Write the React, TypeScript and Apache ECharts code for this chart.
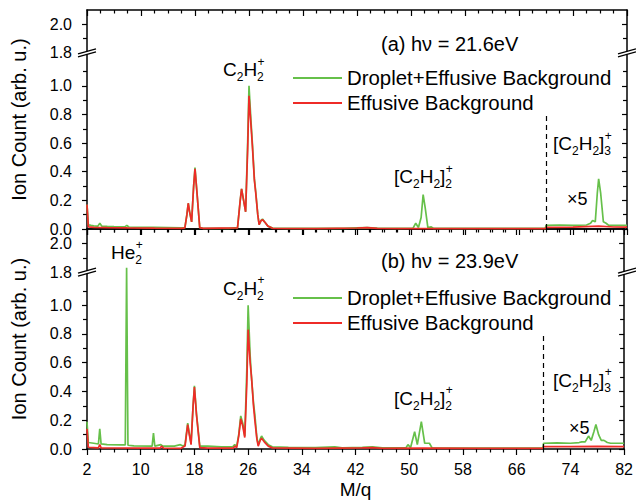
import React, { useEffect, useRef } from "react";
import * as echarts from "echarts";

// ---------------- data ----------------
const seriesNames = ["Droplet+Effusive Background", "Effusive Background"];
const panelTitles = ["(a) hν = 21.6eV", "(b) hν = 23.9eV"];

// Panel (a) hv = 21.6 eV
const aGreenX = [2, 2.2, 2.6, 3, 3.6, 3.9, 4.2, 5, 6, 7.6, 7.9, 8.2, 10, 12, 14, 16, 16.5, 16.8, 17, 17.2, 17.5, 17.8, 18, 18.3, 18.7, 19.2, 21, 23, 24.3, 24.7, 24.9, 25.2, 25.5, 25.8, 26, 26.3, 26.5, 26.8, 27, 27.3, 27.5, 27.8, 28, 28.3, 28.8, 29.5, 32, 36, 40, 42, 43.5, 45, 48, 50.3, 50.7, 51.1, 51.5, 51.8, 52.1, 52.5, 53, 53.3, 56, 60, 64, 69.9, 70, 72, 74, 76, 76.6, 76.9, 77.3, 77.6, 77.8, 78.1, 78.5, 78.9, 79.3, 80, 82];
const aGreenY = [0.17, 0.03, 0.025, 0.022, 0.02, 0.04, 0.02, 0.018, 0.016, 0.015, 0.025, 0.014, 0.012, 0.011, 0.01, 0.008, 0.01, 0.1, 0.18, 0.12, 0.05, 0.3, 0.43, 0.25, 0.01, 0.005, 0.005, 0.005, 0.01, 0.2, 0.28, 0.2, 0.12, 0.6, 1.0, 0.75, 0.6, 0.35, 0.26, 0.1, 0.03, 0.06, 0.07, 0.05, 0.02, 0.006, 0.004, 0.004, 0.005, 0.008, 0.01, 0.006, 0.004, 0.006, 0.04, 0.01, 0.08, 0.24, 0.15, 0.01, 0.015, 0.005, 0.004, 0.004, 0.004, 0.004, 0.025, 0.028, 0.025, 0.028, 0.04, 0.06, 0.05, 0.25, 0.35, 0.25, 0.05, 0.04, 0.025, 0.026, 0.025];
const aRedX = [2, 2.2, 3, 5, 8, 12, 16, 16.5, 16.8, 17, 17.2, 17.5, 17.8, 18, 18.3, 18.7, 19.2, 24.3, 24.7, 24.9, 25.2, 25.5, 25.8, 26, 26.3, 26.5, 26.8, 27, 27.3, 27.5, 27.8, 28, 28.3, 28.8, 29.5, 36, 42, 43.5, 45, 50, 60, 69.9, 70, 74, 77.8, 80, 82];
const aRedY = [0.17, 0.015, 0.012, 0.01, 0.008, 0.006, 0.005, 0.008, 0.1, 0.18, 0.12, 0.05, 0.3, 0.42, 0.25, 0.01, 0.004, 0.008, 0.2, 0.28, 0.2, 0.12, 0.55, 0.93, 0.72, 0.58, 0.34, 0.25, 0.1, 0.03, 0.06, 0.065, 0.05, 0.02, 0.005, 0.003, 0.007, 0.01, 0.005, 0.003, 0.003, 0.003, 0.012, 0.013, 0.02, 0.014, 0.013];

// Panel (b) hv = 23.9 eV
const bGreenX = [2, 2.2, 3, 3.7, 3.9, 4.1, 5, 7, 7.7, 7.9, 8.1, 9, 11.7, 11.9, 12.1, 13, 13.3, 15, 15.9, 16.3, 16.6, 17, 17.2, 17.5, 17.8, 18, 18.3, 18.8, 20, 22, 23.7, 24, 24.3, 24.6, 24.9, 25.2, 25.5, 25.8, 26, 26.3, 26.5, 26.8, 27, 27.3, 27.5, 27.8, 28, 28.4, 29, 29.6, 32, 36, 38.9, 40, 43, 44.5, 46, 49.5, 49.8, 50.2, 50.8, 51.2, 51.8, 52.3, 53, 53.4, 56, 60, 64, 69.9, 70, 72, 74, 75.3, 75.7, 76.2, 76.7, 77.1, 77.5, 77.8, 78.2, 78.6, 79, 79.5, 80, 82];
const bGreenY = [0.19, 0.045, 0.04, 0.035, 0.14, 0.035, 0.03, 0.028, 0.028, 1.83, 0.026, 0.022, 0.02, 0.11, 0.02, 0.03, 0.02, 0.02, 0.03, 0.02, 0.03, 0.18, 0.12, 0.04, 0.3, 0.44, 0.25, 0.02, 0.02, 0.015, 0.015, 0.03, 0.02, 0.1, 0.23, 0.18, 0.09, 0.55, 1.0, 0.65, 0.5, 0.32, 0.24, 0.08, 0.03, 0.07, 0.09, 0.06, 0.03, 0.015, 0.012, 0.01, 0.015, 0.008, 0.012, 0.015, 0.008, 0.008, 0.03, 0.01, 0.12, 0.03, 0.19, 0.04, 0.04, 0.008, 0.006, 0.006, 0.006, 0.006, 0.04, 0.042, 0.04, 0.045, 0.05, 0.05, 0.09, 0.06, 0.12, 0.17, 0.1, 0.06, 0.06, 0.045, 0.04, 0.04];
const bRedX = [2, 2.2, 3, 3.7, 3.9, 4.1, 6, 10, 12.9, 13.1, 13.4, 16, 16.6, 17, 17.2, 17.5, 17.8, 18, 18.3, 18.8, 20, 23.8, 24, 24.3, 24.6, 24.9, 25.2, 25.5, 25.8, 26, 26.3, 26.5, 26.8, 27, 27.3, 27.5, 27.8, 28, 28.4, 29, 29.6, 36, 43, 44.5, 46, 52, 60, 69.9, 70, 74, 78, 82];
const bRedY = [0.14, 0.012, 0.01, 0.008, 0.03, 0.008, 0.007, 0.006, 0.006, 0.02, 0.006, 0.005, 0.02, 0.17, 0.11, 0.03, 0.3, 0.43, 0.24, 0.01, 0.006, 0.006, 0.02, 0.01, 0.09, 0.21, 0.16, 0.08, 0.45, 0.83, 0.6, 0.5, 0.3, 0.2, 0.07, 0.02, 0.06, 0.075, 0.05, 0.02, 0.008, 0.005, 0.008, 0.01, 0.005, 0.006, 0.005, 0.005, 0.016, 0.017, 0.018, 0.016];

// axis ticks
const xMajorTicks = [2, 10, 18, 26, 34, 42, 50, 58, 66, 74, 82];
const xMinorTicks = [4, 6, 8, 12, 14, 16, 20, 22, 24, 28, 30, 32, 36, 38, 40, 44, 46, 48, 52, 54, 56, 60, 62, 64, 68, 70, 72, 76, 78, 80];
// axis values (after the 1.23 -> 1.8 break) ; labels map back to real values
const yMajorTicks = [0, 0.2, 0.4, 0.6, 0.8, 1.0, 1.23, 1.43];
const yMinorTicks = [0.1, 0.3, 0.5, 0.7, 0.9, 1.1, 1.33];
const BREAK_SHIFT = 0.57; // real 1.8 is drawn at axis 1.23
const Y_MAX = 1.53; // real 2.1
const SCALED_FROM = 70; // x5 region starts

// ---------------- layout ----------------
const FONT = '"Liberation Sans", Arial, Helvetica, sans-serif';
const GREEN = "#66c04a";
const RED = "#ee2b27";
const GRID_L = 87;
const GRID_R = 9;
const panels = [
  { top: 10, height: 219 },
  { top: 229, height: 220 },
];

const toAxis = (v: number) => (v >= 1.8 ? v - BREAK_SHIFT : v);
const zip = (xs: number[], ys: number[]) => xs.map((x, i) => [x, toAxis(ys[i])]);

let measureCtx: CanvasRenderingContext2D | null = null;
function textWidth(t: string, size: number) {
  if (!measureCtx) measureCtx = document.createElement("canvas").getContext("2d");
  if (!measureCtx) return t.length * size * 0.55;
  measureCtx.font = `${size}px ${FONT}`;
  return measureCtx.measureText(t).width;
}

type Tok = [string, string?, string?];
function chem(tokens: Tok[], x0: number, y: number, size: number) {
  const els: any[] = [];
  let x = x0;
  const small = Math.round(size * 0.62);
  const mk = (text: string, xx: number, yy: number, fs: number) => ({
    type: "text",
    x: xx,
    y: yy,
    z: 50,
    style: { text, fontSize: fs, fontFamily: FONT, fill: "#000", align: "left", verticalAlign: "middle" },
  });
  for (const [main, sub, sup] of tokens) {
    if (main) {
      els.push(mk(main, x, y, size));
      x += textWidth(main, size);
    }
    let w = 0;
    if (sub) {
      els.push(mk(sub, x, y + size * 0.4, small));
      w = Math.max(w, textWidth(sub, small));
    }
    if (sup) {
      els.push(mk(sup, x + 0.5, y - size * 0.4, small));
      w = Math.max(w, textWidth(sup, small));
    }
    x += w;
  }
  return els;
}

function plainText(text: string, x: number, y: number, size: number, align = "left") {
  return {
    type: "text",
    x,
    y,
    z: 50,
    style: { text, fontSize: size, fontFamily: FONT, fill: "#000", align, verticalAlign: "middle" },
  };
}

function breakMark(cx: number, cy: number) {
  return {
    type: "group",
    z: 60,
    children: [
      {
        type: "polygon",
        shape: { points: [[cx - 9, cy + 4], [cx + 9, cy - 1], [cx + 9, cy - 4], [cx - 9, cy + 1]] },
        style: { fill: "#fff", stroke: null },
        z: 60,
      },
      { type: "line", shape: { x1: cx - 9, y1: cy + 4, x2: cx + 9, y2: cy - 1 }, style: { stroke: "#000", lineWidth: 1.3 }, z: 61 },
      { type: "line", shape: { x1: cx - 9, y1: cy + 1, x2: cx + 9, y2: cy - 4 }, style: { stroke: "#000", lineWidth: 1.3 }, z: 61 },
    ],
  };
}

function buildOption() {
  const xAxes: any[] = [];
  const yAxes: any[] = [];
  panels.forEach((p, gi) => {
    const isBottom = gi === panels.length - 1;
    const xBase = (pos: string, ticks: number[], len: number, inside: boolean, line: boolean, labels: boolean) => ({
      type: "value",
      gridIndex: gi,
      position: pos,
      min: 2,
      max: 82,
      axisLine: { show: line, onZero: false, lineStyle: { color: "#000", width: 1.5 } },
      axisTick: { show: true, inside, length: len, customValues: ticks, lineStyle: { color: "#000", width: 1.2 } },
      axisLabel: labels
        ? { show: true, customValues: xMajorTicks, margin: 12, fontSize: 16, color: "#000", fontFamily: FONT }
        : { show: false },
      splitLine: { show: false },
      ...(labels
        ? {
            name: "M/q",
            nameLocation: "middle",
            nameGap: 31,
            nameTextStyle: { fontSize: 19, color: "#000", fontFamily: FONT },
          }
        : {}),
    });
    xAxes.push(xBase("bottom", xMajorTicks, 6, false, true, isBottom));
    xAxes.push(xBase("bottom", xMinorTicks, 3.5, false, false, false));
    xAxes.push(xBase("top", xMajorTicks, 6, true, true, false));
    xAxes.push(xBase("top", xMinorTicks, 3.5, true, false, false));

    const yBase = (pos: string, ticks: number[], len: number, inside: boolean, line: boolean, labels: boolean) => ({
      type: "value",
      gridIndex: gi,
      position: pos,
      min: 0,
      max: Y_MAX,
      axisLine: { show: line, onZero: false, lineStyle: { color: "#000", width: 1.5 } },
      axisTick: { show: true, inside, length: len, customValues: ticks, lineStyle: { color: "#000", width: 1.2 } },
      axisLabel: labels
        ? {
            show: true,
            customValues: yMajorTicks,
            margin: 15,
            fontSize: 16,
            lineHeight: 13,
            color: "#000",
            fontFamily: FONT,
            formatter: (v: number) => (v > 1.2 ? v + BREAK_SHIFT : v).toFixed(1),
          }
        : { show: false },
      splitLine: { show: false },
      ...(labels
        ? {
            name: "Ion Count (arb. u.)",
            nameLocation: "middle",
            nameGap: 58,
            nameTextStyle: { fontSize: 20, color: "#000", fontFamily: FONT },
          }
        : {}),
    });
    yAxes.push(yBase("left", yMajorTicks, 5, false, true, true));
    yAxes.push(yBase("left", yMinorTicks, 4, false, false, false));
    yAxes.push(yBase("right", yMajorTicks, 5, true, true, false));
    yAxes.push(yBase("right", yMinorTicks, 4, true, false, false));
  });

  const dashed = {
    silent: true,
    symbol: ["none", "none"],
    label: { show: false },
    lineStyle: { color: "#000", type: [5, 4], width: 1.2 },
    data: [[{ coord: [SCALED_FROM, 0] }, { coord: [SCALED_FROM, 0.79] }]],
  };

  const line = (name: string, color: string, gi: number, data: number[][], markLine?: any) => ({
    type: "line",
    name,
    xAxisIndex: gi * 4,
    yAxisIndex: gi * 4,
    data,
    symbol: "none",
    showSymbol: false,
    lineStyle: { color, width: 1.7 },
    itemStyle: { color },
    z: color === RED ? 3 : 2,
    ...(markLine ? { markLine } : {}),
  });

  const series = [
    line(seriesNames[0], GREEN, 0, zip(aGreenX, aGreenY)),
    line(seriesNames[1], RED, 0, zip(aRedX, aRedY), dashed),
    line(seriesNames[0], GREEN, 1, zip(bGreenX, bGreenY)),
    line(seriesNames[1], RED, 1, zip(bRedX, bRedY), dashed),
  ];

  const yOf = (gi: number, v: number) => panels[gi].top + panels[gi].height * (1 - v / Y_MAX);
  const C2H2: Tok[] = [["C", "2"], ["H", "2", "+"]];
  const dimer: Tok[] = [["[C", "2"], ["H", "2"], ["]", "2", "+"]];
  const trimer: Tok[] = [["[C", "2"], ["H", "2"], ["]", "3", "+"]];

  const graphic: any[] = [
    plainText(panelTitles[0], 381, 44, 20),
    plainText(panelTitles[1], 381, 260.5, 20),
    ...chem(C2H2, 223, 69.5, 19),
    ...chem(C2H2, 223, 288, 19),
    ...chem(dimer, 394, 176.5, 19),
    ...chem(dimer, 394, 398, 19),
    ...chem(trimer, 553, 143.5, 19),
    ...chem(trimer, 553, 380, 19),
    ...chem([["He", "2", "+"]], 111, 252.5, 19),
    plainText("×5", 567, 199, 18),
    plainText("×5", 569, 428, 18),
  ];
  panels.forEach((p, gi) => {
    const cy = yOf(gi, 1.8 - BREAK_SHIFT);
    graphic.push(breakMark(GRID_L, cy));
    graphic.push(breakMark(636 - GRID_R, cy));
  });

  return {
    animation: false,
    backgroundColor: "#fff",
    textStyle: { fontFamily: FONT },
    grid: panels.map((p) => ({ left: GRID_L, right: GRID_R, top: p.top, height: p.height })),
    xAxis: xAxes,
    yAxis: yAxes,
    legend: [68, 288].map((top) => ({
      left: 293,
      top,
      orient: "vertical",
      padding: 0,
      icon: "rect",
      itemWidth: 49,
      itemHeight: 2,
      itemGap: 5,
      selectedMode: false,
      textStyle: { fontSize: 20.4, color: "#000", fontFamily: FONT },
      data: seriesNames,
    })),
    series,
    graphic,
  };
}

export default function App() {
  const ref = useRef<HTMLDivElement>(null);
  useEffect(() => {
    if (!ref.current) return;
    const chart = echarts.init(ref.current, undefined, { renderer: "svg" });
    chart.setOption(buildOption() as any);
    return () => chart.dispose();
  }, []);
  return (
    <div
      ref={ref}
      style={{ position: "fixed", left: 0, top: 0, width: 636, height: 504, background: "#fff" }}
    />
  );
}
